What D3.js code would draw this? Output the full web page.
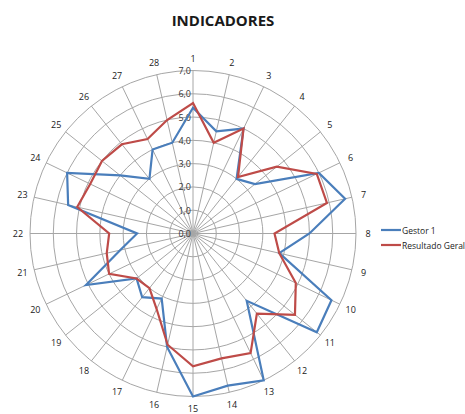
<!DOCTYPE html>
<html>
<head>
<meta charset="utf-8">
<script src="https://cdn.jsdelivr.net/npm/d3@7"></script>
<style>
  body { margin: 0; background: #fff; }
  svg { font-family: "Open Sans", "Liberation Sans", sans-serif; }
</style>
</head>
<body>
<svg id="chart" width="465" height="414"></svg>
<script>
const categories = d3.range(1, 29).map(String);
const ticks = [0, 1, 2, 3, 4, 5, 6, 7];
const gestor = [5.4, 4.5, 5.0, 3.0, 3.4, 6.0, 6.7, 5.0, 3.8, 6.6, 6.8, 3.7, 7.0, 6.7,
                7.0, 5.0, 3.1, 3.5, 3.1, 5.1, 3.2, 2.4, 5.5, 6.0, 4.0, 3.0, 4.0, 4.0];
const geral = [5.6, 4.0, 5.0, 3.1, 4.6, 5.9, 5.9, 3.5, 3.8, 4.9, 5.6, 4.4, 5.7, 5.5,
               5.7, 4.9, 3.6, 3.0, 3.1, 4.0, 3.8, 3.6, 5.1, 4.9, 5.0, 4.9, 4.5, 5.0];

const series = [
  {name: "Gestor 1", values: gestor, color: "#4a7ebb"},
  {name: "Resultado Geral", values: geral, color: "#be4b48"}
];

const cx = 193, cy = 233.5, R = 163;
const svg = d3.select("#chart");

const r = d3.scaleLinear().domain([0, 7]).range([0, R]);
const angle = d3.scaleLinear().domain([0, categories.length]).range([0, 2 * Math.PI]);

// title
svg.append("text")
  .attr("x", 223).attr("y", 26)
  .attr("text-anchor", "middle")
  .attr("font-size", "15px")
  .attr("font-weight", "bold")
  .attr("fill", "#1a1a1a")
  .text("INDICADORES");

const g = svg.append("g").attr("transform", `translate(${cx},${cy})`);

// grid circles
g.selectAll("circle.grid")
  .data(ticks.slice(1))
  .enter()
  .append("circle")
  .attr("class", "grid")
  .attr("r", d => r(d))
  .attr("fill", "none")
  .attr("stroke", "#a6a6a6")
  .attr("stroke-width", 1);

// spokes
g.selectAll("line.spoke")
  .data(categories)
  .enter()
  .append("line")
  .attr("class", "spoke")
  .attr("x1", 0).attr("y1", 0)
  .attr("x2", (d, i) => R * Math.sin(angle(i)))
  .attr("y2", (d, i) => -R * Math.cos(angle(i)))
  .attr("stroke", "#a6a6a6")
  .attr("stroke-width", 1);

// category labels
g.selectAll("text.cat")
  .data(categories)
  .enter()
  .append("text")
  .attr("class", "cat")
  .attr("x", (d, i) => (R + 12) * Math.sin(angle(i)))
  .attr("y", (d, i) => -(R + 12) * Math.cos(angle(i)))
  .attr("text-anchor", "middle")
  .attr("dominant-baseline", "central")
  .attr("font-size", "9px")
  .attr("fill", "#1a1a1a")
  .text(d => d);

// radial tick labels
g.selectAll("text.tick")
  .data(ticks)
  .enter()
  .append("text")
  .attr("class", "tick")
  .attr("x", -2)
  .attr("y", d => -r(d))
  .attr("text-anchor", "end")
  .attr("dominant-baseline", "central")
  .attr("font-size", "9px")
  .attr("fill", "#333")
  .text(d => d.toFixed(1).replace(".", ","));

// series
const line = d3.lineRadial()
  .angle((d, i) => angle(i))
  .radius(d => r(d))
  .curve(d3.curveLinearClosed);

g.selectAll("path.series")
  .data(series)
  .enter()
  .append("path")
  .attr("class", "series")
  .attr("d", d => line(d.values))
  .attr("fill", "none")
  .attr("stroke", d => d.color)
  .attr("stroke-width", 2.2)
  .attr("stroke-linejoin", "miter");

// legend
const legend = svg.append("g").attr("transform", "translate(381,230)");
series.forEach((s, i) => {
  legend.append("line")
    .attr("x1", 0).attr("x2", 20)
    .attr("y1", i * 15).attr("y2", i * 15)
    .attr("stroke", s.color)
    .attr("stroke-width", 2.2);
  legend.append("text")
    .attr("x", 21).attr("y", i * 15)
    .attr("dominant-baseline", "central")
    .attr("font-size", "8.5px")
    .attr("fill", "#1a1a1a")
    .text(s.name);
});
</script>
</body>
</html>
